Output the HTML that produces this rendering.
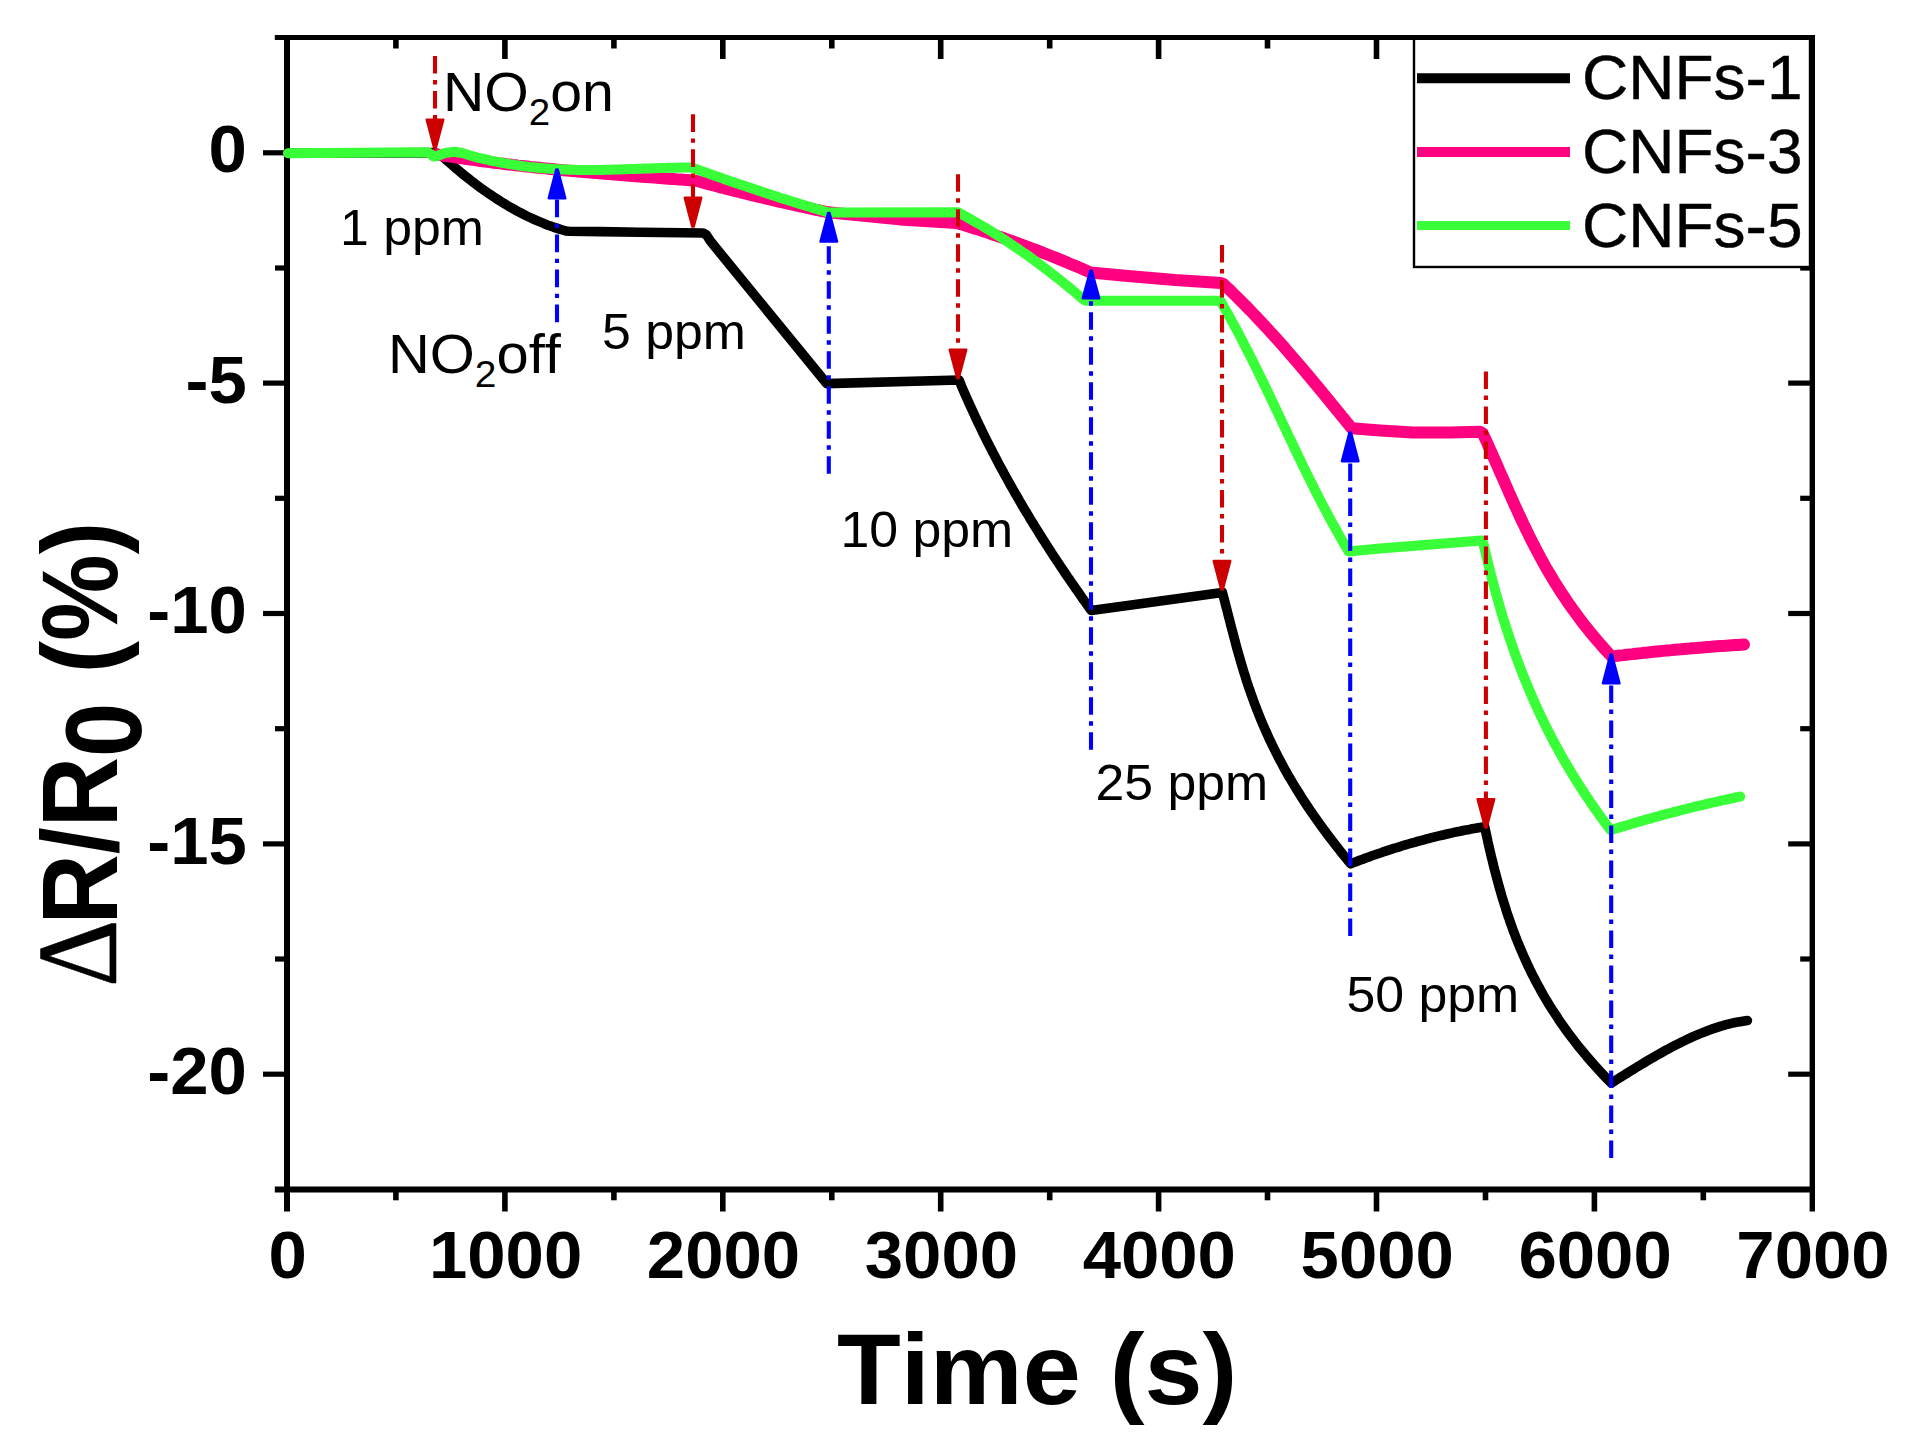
<!DOCTYPE html>
<html lang="en"><head><meta charset="utf-8"><title>NO2 response of CNFs</title>
<style>html,body{margin:0;padding:0;background:#fff}body{width:1915px;height:1451px;overflow:hidden}svg{display:block}text{font-family:"Liberation Sans",sans-serif;fill:#000;font-variant-ligatures:none;font-kerning:none}.b{font-weight:bold}</style></head><body>
<svg width="1915" height="1451" viewBox="0 0 1915 1451">
<rect width="1915" height="1451" fill="#fff"/>
<g stroke="#000" stroke-width="6.0" stroke-linecap="butt" fill="none">
<line x1="274.8" y1="37.6" x2="1815.0" y2="37.6" stroke-width="5.0"/>
<line x1="274.8" y1="1189.4" x2="1815.0" y2="1189.4"/>
<line x1="287.0" y1="34.9" x2="287.0" y2="1211.5"/>
<line x1="1812.3" y1="34.9" x2="1812.3" y2="1211.5" stroke-width="5.4"/>
</g>
<g stroke="#000" stroke-width="5.6" stroke-linecap="butt">
<line x1="395.9" y1="1189.4" x2="395.9" y2="1200.3"/>
<line x1="395.9" y1="37.6" x2="395.9" y2="48.5"/>
<line x1="504.9" y1="1189.4" x2="504.9" y2="1211.5"/>
<line x1="504.9" y1="37.6" x2="504.9" y2="59.0"/>
<line x1="613.9" y1="1189.4" x2="613.9" y2="1200.3"/>
<line x1="613.9" y1="37.6" x2="613.9" y2="48.5"/>
<line x1="722.8" y1="1189.4" x2="722.8" y2="1211.5"/>
<line x1="722.8" y1="37.6" x2="722.8" y2="59.0"/>
<line x1="831.8" y1="1189.4" x2="831.8" y2="1200.3"/>
<line x1="831.8" y1="37.6" x2="831.8" y2="48.5"/>
<line x1="940.7" y1="1189.4" x2="940.7" y2="1211.5"/>
<line x1="940.7" y1="37.6" x2="940.7" y2="59.0"/>
<line x1="1049.7" y1="1189.4" x2="1049.7" y2="1200.3"/>
<line x1="1049.7" y1="37.6" x2="1049.7" y2="48.5"/>
<line x1="1158.6" y1="1189.4" x2="1158.6" y2="1211.5"/>
<line x1="1158.6" y1="37.6" x2="1158.6" y2="59.0"/>
<line x1="1267.5" y1="1189.4" x2="1267.5" y2="1200.3"/>
<line x1="1267.5" y1="37.6" x2="1267.5" y2="48.5"/>
<line x1="1376.5" y1="1189.4" x2="1376.5" y2="1211.5"/>
<line x1="1376.5" y1="37.6" x2="1376.5" y2="59.0"/>
<line x1="1485.5" y1="1189.4" x2="1485.5" y2="1200.3"/>
<line x1="1485.5" y1="37.6" x2="1485.5" y2="48.5"/>
<line x1="1594.4" y1="1189.4" x2="1594.4" y2="1211.5"/>
<line x1="1594.4" y1="37.6" x2="1594.4" y2="59.0"/>
<line x1="1703.3" y1="1189.4" x2="1703.3" y2="1200.3"/>
<line x1="1703.3" y1="37.6" x2="1703.3" y2="48.5"/>
<line x1="263.0" y1="152.8" x2="287.0" y2="152.8" stroke-width="5.2"/>
<line x1="1788.2" y1="152.8" x2="1812.3" y2="152.8" stroke-width="5.2"/>
<line x1="275.0" y1="268.0" x2="287.0" y2="268.0" stroke-width="5.2"/>
<line x1="1800.2" y1="268.0" x2="1812.3" y2="268.0" stroke-width="5.2"/>
<line x1="263.0" y1="383.1" x2="287.0" y2="383.1" stroke-width="5.2"/>
<line x1="1788.2" y1="383.1" x2="1812.3" y2="383.1" stroke-width="5.2"/>
<line x1="275.0" y1="498.3" x2="287.0" y2="498.3" stroke-width="5.2"/>
<line x1="1800.2" y1="498.3" x2="1812.3" y2="498.3" stroke-width="5.2"/>
<line x1="263.0" y1="613.5" x2="287.0" y2="613.5" stroke-width="5.2"/>
<line x1="1788.2" y1="613.5" x2="1812.3" y2="613.5" stroke-width="5.2"/>
<line x1="275.0" y1="728.7" x2="287.0" y2="728.7" stroke-width="5.2"/>
<line x1="1800.2" y1="728.7" x2="1812.3" y2="728.7" stroke-width="5.2"/>
<line x1="263.0" y1="843.9" x2="287.0" y2="843.9" stroke-width="5.2"/>
<line x1="1788.2" y1="843.9" x2="1812.3" y2="843.9" stroke-width="5.2"/>
<line x1="275.0" y1="959.0" x2="287.0" y2="959.0" stroke-width="5.2"/>
<line x1="1800.2" y1="959.0" x2="1812.3" y2="959.0" stroke-width="5.2"/>
<line x1="263.0" y1="1074.2" x2="287.0" y2="1074.2" stroke-width="5.2"/>
<line x1="1788.2" y1="1074.2" x2="1812.3" y2="1074.2" stroke-width="5.2"/>
</g>
<text class="b" font-size="67.2" text-anchor="middle" transform="translate(287.7,1278.3) scale(1.0253,1)">0</text>
<text class="b" font-size="67.2" text-anchor="middle" transform="translate(505.6,1278.3) scale(1.0253,1)">1000</text>
<text class="b" font-size="67.2" text-anchor="middle" transform="translate(723.5,1278.3) scale(1.0253,1)">2000</text>
<text class="b" font-size="67.2" text-anchor="middle" transform="translate(941.4,1278.3) scale(1.0253,1)">3000</text>
<text class="b" font-size="67.2" text-anchor="middle" transform="translate(1159.3,1278.3) scale(1.0253,1)">4000</text>
<text class="b" font-size="67.2" text-anchor="middle" transform="translate(1377.2,1278.3) scale(1.0253,1)">5000</text>
<text class="b" font-size="67.2" text-anchor="middle" transform="translate(1595.1,1278.3) scale(1.0253,1)">6000</text>
<text class="b" font-size="67.2" text-anchor="middle" transform="translate(1813.0,1278.3) scale(1.0253,1)">7000</text>
<text class="b" font-size="67.2" text-anchor="end" transform="translate(246.8,172.4) scale(1.0253,1)">0</text>
<text class="b" font-size="67.2" text-anchor="end" transform="translate(246.8,402.7) scale(1.0253,1)">-5</text>
<text class="b" font-size="67.2" text-anchor="end" transform="translate(246.8,633.1) scale(1.0253,1)">-10</text>
<text class="b" font-size="67.2" text-anchor="end" transform="translate(246.8,863.5) scale(1.0253,1)">-15</text>
<text class="b" font-size="67.2" text-anchor="end" transform="translate(246.8,1093.8) scale(1.0253,1)">-20</text>
<text class="b" font-size="99.4" text-anchor="middle" transform="translate(1037.2,1403.5) scale(1.0503,1)">Time (s)</text>
<text class="b" font-size="101.3" transform="translate(116.5,924.6) scale(1.0670,0.9609) rotate(-90)">R/R<tspan dy="22.5">0</tspan><tspan dy="-22.5" dx="2.6"> (%)</tspan></text>
<text font-size="107" stroke="#000" stroke-width="0.5" stroke-linejoin="miter" style="font-family:'Liberation Serif','DejaVu Serif',serif" transform="translate(116.0,987.0) scale(1.0670,0.98) rotate(-90)">Δ</text>
<g fill="none" stroke-linecap="round" stroke-linejoin="round">
<path d="M288.0 153.3 L434.0 152.6 L440.0 154.2 L440.0 154.2 L443.1 157.0 L446.1 159.8 L449.2 162.5 L452.3 165.2 L455.3 167.8 L458.4 170.4 L461.5 173.0 L464.5 175.5 L467.6 177.9 L470.7 180.3 L473.7 182.7 L476.8 185.0 L479.9 187.3 L482.9 189.5 L486.0 191.6 L489.1 193.8 L492.1 195.8 L495.2 197.9 L498.3 199.9 L501.3 201.8 L504.4 203.7 L507.4 205.5 L510.5 207.3 L513.6 209.0 L516.6 210.7 L519.7 212.4 L522.8 213.9 L525.8 215.5 L528.9 217.0 L532.0 218.4 L535.0 219.8 L538.1 221.1 L541.2 222.4 L544.2 223.7 L547.3 224.9 L550.4 226.0 L553.4 227.1 L556.5 228.1 L559.6 229.1 L562.6 230.0 L565.7 230.9 L569.0 231.3 L600.0 231.6 L640.0 232.2 L703.0 233.0 L706.5 235.0 L710.0 240.5 L716.0 248.0 L826.8 383.6 L959.0 380.0 L959.0 380.0 L960.3 383.0 L961.5 386.1 L962.8 389.1 L964.1 392.1 L965.5 395.2 L966.8 398.2 L968.1 401.2 L969.5 404.3 L970.9 407.3 L972.3 410.3 L973.7 413.3 L975.1 416.4 L976.5 419.4 L977.9 422.4 L979.4 425.5 L980.9 428.5 L982.3 431.5 L983.8 434.6 L985.3 437.6 L986.8 440.6 L988.4 443.7 L989.9 446.7 L991.5 449.7 L993.0 452.8 L994.6 455.8 L996.2 458.8 L997.8 461.9 L999.4 464.9 L1001.0 467.9 L1002.7 470.9 L1004.3 474.0 L1006.0 477.0 L1007.7 480.0 L1009.4 483.1 L1011.1 486.1 L1012.8 489.1 L1014.5 492.2 L1016.3 495.2 L1018.0 498.2 L1019.8 501.3 L1021.6 504.3 L1023.3 507.3 L1025.1 510.4 L1027.0 513.4 L1028.8 516.4 L1030.6 519.5 L1032.5 522.5 L1034.3 525.5 L1036.2 528.5 L1038.1 531.6 L1040.0 534.6 L1041.9 537.6 L1043.8 540.7 L1045.8 543.7 L1047.7 546.7 L1049.7 549.8 L1051.6 552.8 L1053.6 555.8 L1055.6 558.9 L1057.6 561.9 L1059.6 564.9 L1061.6 568.0 L1063.7 571.0 L1065.7 574.0 L1067.8 577.1 L1069.9 580.1 L1071.9 583.1 L1074.0 586.1 L1076.1 589.2 L1078.3 592.2 L1080.4 595.2 L1082.5 598.3 L1084.7 601.3 L1086.8 604.3 L1089.0 607.4 L1091.2 610.4 L1222.4 592.4 L1222.4 592.4 L1223.2 595.4 L1224.0 598.4 L1224.8 601.4 L1225.5 604.5 L1226.3 607.5 L1227.1 610.5 L1227.8 613.5 L1228.6 616.5 L1229.4 619.5 L1230.2 622.6 L1230.9 625.6 L1231.7 628.6 L1232.5 631.6 L1233.3 634.6 L1234.1 637.6 L1234.9 640.6 L1235.7 643.7 L1236.5 646.7 L1237.3 649.7 L1238.2 652.7 L1239.0 655.7 L1239.9 658.7 L1240.8 661.8 L1241.7 664.8 L1242.6 667.8 L1243.5 670.8 L1244.4 673.8 L1245.4 676.8 L1246.3 679.9 L1247.3 682.9 L1248.3 685.9 L1249.3 688.9 L1250.4 691.9 L1251.4 694.9 L1252.5 697.9 L1253.6 701.0 L1254.7 704.0 L1255.9 707.0 L1257.0 710.0 L1258.2 713.0 L1259.4 716.0 L1260.6 719.1 L1261.9 722.1 L1263.2 725.1 L1264.5 728.1 L1265.8 731.1 L1267.2 734.1 L1268.5 737.1 L1269.9 740.2 L1271.4 743.2 L1272.8 746.2 L1274.3 749.2 L1275.8 752.2 L1277.3 755.2 L1278.9 758.3 L1280.5 761.3 L1282.1 764.3 L1283.7 767.3 L1285.4 770.3 L1287.1 773.3 L1288.8 776.3 L1290.6 779.4 L1292.4 782.4 L1294.2 785.4 L1296.0 788.4 L1297.9 791.4 L1299.8 794.4 L1301.7 797.5 L1303.6 800.5 L1305.6 803.5 L1307.6 806.5 L1309.6 809.5 L1311.7 812.5 L1313.8 815.6 L1315.9 818.6 L1318.0 821.6 L1320.2 824.6 L1322.4 827.6 L1324.6 830.6 L1326.8 833.6 L1329.1 836.7 L1331.4 839.7 L1333.7 842.7 L1336.1 845.7 L1338.4 848.7 L1340.8 851.7 L1343.2 854.8 L1345.7 857.8 L1348.1 860.8 L1350.6 863.8 L1350.6 863.8 L1353.6 862.6 L1356.7 861.4 L1359.7 860.3 L1362.8 859.2 L1365.8 858.0 L1368.9 856.9 L1371.9 855.8 L1375.0 854.8 L1378.0 853.7 L1381.1 852.7 L1384.1 851.6 L1387.1 850.6 L1390.2 849.6 L1393.2 848.7 L1396.3 847.7 L1399.3 846.8 L1402.4 845.8 L1405.4 844.9 L1408.5 844.0 L1411.5 843.1 L1414.6 842.3 L1417.6 841.4 L1420.6 840.6 L1423.7 839.8 L1426.7 838.9 L1429.8 838.2 L1432.8 837.4 L1435.9 836.6 L1438.9 835.9 L1442.0 835.2 L1445.0 834.5 L1448.1 833.8 L1451.1 833.1 L1454.1 832.4 L1457.2 831.8 L1460.2 831.2 L1463.3 830.5 L1466.3 829.9 L1469.4 829.4 L1472.4 828.8 L1475.5 828.3 L1478.5 827.7 L1481.6 827.2 L1484.6 826.7 L1484.6 826.7 L1485.3 829.7 L1485.9 832.7 L1486.6 835.7 L1487.3 838.8 L1487.9 841.8 L1488.6 844.8 L1489.3 847.8 L1490.0 850.8 L1490.7 853.8 L1491.4 856.9 L1492.2 859.9 L1492.9 862.9 L1493.6 865.9 L1494.4 868.9 L1495.2 871.9 L1496.0 875.0 L1496.8 878.0 L1497.6 881.0 L1498.4 884.0 L1499.2 887.0 L1500.1 890.0 L1501.0 893.1 L1501.8 896.1 L1502.7 899.1 L1503.7 902.1 L1504.6 905.1 L1505.6 908.1 L1506.5 911.2 L1507.5 914.2 L1508.5 917.2 L1509.6 920.2 L1510.6 923.2 L1511.7 926.2 L1512.8 929.3 L1513.9 932.3 L1515.1 935.3 L1516.2 938.3 L1517.4 941.3 L1518.7 944.3 L1519.9 947.4 L1521.2 950.4 L1522.5 953.4 L1523.8 956.4 L1525.1 959.4 L1526.5 962.4 L1527.9 965.5 L1529.4 968.5 L1530.8 971.5 L1532.3 974.5 L1533.9 977.5 L1535.4 980.5 L1537.0 983.6 L1538.7 986.6 L1540.3 989.6 L1542.0 992.6 L1543.7 995.6 L1545.5 998.6 L1547.3 1001.7 L1549.1 1004.7 L1551.0 1007.7 L1552.9 1010.7 L1554.9 1013.7 L1556.9 1016.7 L1558.9 1019.8 L1560.9 1022.8 L1563.0 1025.8 L1565.2 1028.8 L1567.4 1031.8 L1569.6 1034.8 L1571.9 1037.9 L1574.2 1040.9 L1576.5 1043.9 L1578.9 1046.9 L1581.4 1049.9 L1583.9 1052.9 L1586.4 1056.0 L1589.0 1059.0 L1591.6 1062.0 L1594.3 1065.0 L1597.0 1068.0 L1599.7 1071.0 L1602.6 1074.1 L1605.4 1077.1 L1608.3 1080.1 L1611.3 1083.1 L1611.3 1083.1 L1614.3 1081.2 L1617.3 1079.3 L1620.4 1077.4 L1623.4 1075.5 L1626.4 1073.6 L1629.4 1071.7 L1632.5 1069.9 L1635.5 1068.0 L1638.5 1066.2 L1641.5 1064.3 L1644.6 1062.5 L1647.6 1060.7 L1650.6 1058.9 L1653.6 1057.2 L1656.7 1055.4 L1659.7 1053.7 L1662.7 1052.0 L1665.7 1050.3 L1668.8 1048.7 L1671.8 1047.1 L1674.8 1045.5 L1677.8 1044.0 L1680.9 1042.4 L1683.9 1041.0 L1686.9 1039.5 L1689.9 1038.1 L1693.0 1036.7 L1696.0 1035.4 L1699.0 1034.1 L1702.0 1032.9 L1705.1 1031.7 L1708.1 1030.5 L1711.1 1029.4 L1714.1 1028.4 L1717.2 1027.4 L1720.2 1026.4 L1723.2 1025.5 L1726.2 1024.7 L1729.3 1023.9 L1732.3 1023.2 L1735.3 1022.5 L1738.3 1021.9 L1741.4 1021.4 L1744.4 1020.9 L1747.4 1020.5" stroke="#000" stroke-width="9.6"/>
<path d="M437.0 154.5 L440.0 155.0 L440.0 155.0 L443.0 155.5 L446.0 156.0 L449.0 156.4 L452.0 156.9 L455.0 157.3 L458.0 157.8 L461.1 158.2 L464.1 158.7 L467.1 159.1 L470.1 159.5 L473.1 159.9 L476.1 160.3 L479.1 160.8 L482.1 161.2 L485.1 161.5 L488.1 161.9 L491.1 162.3 L494.1 162.7 L497.2 163.1 L500.2 163.4 L503.2 163.8 L506.2 164.2 L509.2 164.5 L512.2 164.9 L515.2 165.2 L518.2 165.6 L521.2 165.9 L524.2 166.2 L527.2 166.5 L530.2 166.9 L533.3 167.2 L536.3 167.5 L539.3 167.8 L542.3 168.1 L545.3 168.4 L548.3 168.7 L551.3 169.0 L554.3 169.3 L557.3 169.6 L560.3 169.9 L563.3 170.2 L566.3 170.4 L569.4 170.7 L572.4 171.0 L575.4 171.3 L578.4 171.5 L581.4 171.8 L584.4 172.1 L587.4 172.3 L590.4 172.6 L593.4 172.8 L596.4 173.1 L599.4 173.3 L602.4 173.6 L605.5 173.8 L608.5 174.1 L611.5 174.3 L614.5 174.6 L617.5 174.8 L620.5 175.0 L623.5 175.3 L626.5 175.5 L629.5 175.7 L632.5 176.0 L635.5 176.2 L638.5 176.4 L641.6 176.7 L644.6 176.9 L647.6 177.1 L650.6 177.3 L653.6 177.6 L656.6 177.8 L659.6 178.0 L662.6 178.2 L665.6 178.5 L668.6 178.7 L671.6 178.9 L674.6 179.1 L677.7 179.4 L680.7 179.6 L683.7 179.8 L686.7 180.0 L689.7 180.2 L692.7 180.5 L695.7 180.7 L695.7 180.7 L698.7 181.5 L701.7 182.3 L704.7 183.1 L707.7 183.9 L710.7 184.7 L713.7 185.5 L716.7 186.3 L719.8 187.1 L722.8 187.8 L725.8 188.6 L728.8 189.4 L731.8 190.1 L734.8 190.9 L737.8 191.7 L740.8 192.4 L743.8 193.2 L746.8 193.9 L749.8 194.6 L752.8 195.4 L755.8 196.1 L758.8 196.8 L761.9 197.5 L764.9 198.3 L767.9 199.0 L770.9 199.7 L773.9 200.4 L776.9 201.1 L779.9 201.8 L782.9 202.5 L785.9 203.2 L788.9 203.8 L791.9 204.5 L794.9 205.2 L797.9 205.9 L800.9 206.5 L803.9 207.2 L807.0 207.8 L810.0 208.5 L813.0 209.1 L816.0 209.8 L819.0 210.4 L822.0 211.0 L825.0 211.7 L828.0 212.3 L899.3 219.4 L957.0 223.0 L957.0 223.0 L960.0 223.9 L963.1 224.9 L966.1 225.8 L969.1 226.7 L972.2 227.7 L975.2 228.7 L978.3 229.6 L981.3 230.6 L984.3 231.6 L987.4 232.6 L990.4 233.7 L993.4 234.7 L996.5 235.7 L999.5 236.8 L1002.5 237.8 L1005.6 238.9 L1008.6 239.9 L1011.7 241.0 L1014.7 242.1 L1017.7 243.2 L1020.8 244.3 L1023.8 245.5 L1026.8 246.6 L1029.9 247.7 L1032.9 248.9 L1035.9 250.0 L1039.0 251.2 L1042.0 252.4 L1045.1 253.6 L1048.1 254.8 L1051.1 256.0 L1054.2 257.2 L1057.2 258.4 L1060.2 259.6 L1063.3 260.9 L1066.3 262.1 L1069.3 263.4 L1072.4 264.7 L1075.4 265.9 L1078.5 267.2 L1081.5 268.5 L1084.5 269.9 L1087.6 271.2 L1090.6 272.5 L1128.0 275.9 L1175.0 280.1 L1221.0 283.0 L1223.5 284.0 L1223.5 284.0 L1226.6 287.0 L1229.8 290.0 L1232.8 293.0 L1235.9 296.0 L1238.9 299.0 L1241.9 302.0 L1244.9 305.0 L1247.8 308.0 L1250.8 311.0 L1253.6 314.0 L1256.5 317.0 L1259.4 320.1 L1262.2 323.1 L1265.0 326.1 L1267.7 329.1 L1270.5 332.1 L1273.2 335.1 L1275.9 338.1 L1278.6 341.1 L1281.3 344.1 L1284.0 347.1 L1286.6 350.1 L1289.2 353.1 L1291.8 356.1 L1294.4 359.1 L1297.0 362.1 L1299.6 365.1 L1302.1 368.1 L1304.7 371.1 L1307.2 374.1 L1309.7 377.1 L1312.2 380.1 L1314.7 383.1 L1317.2 386.1 L1319.7 389.1 L1322.2 392.1 L1324.6 395.2 L1327.1 398.2 L1329.6 401.2 L1332.0 404.2 L1334.5 407.2 L1336.9 410.2 L1339.4 413.2 L1341.8 416.2 L1344.3 419.2 L1346.7 422.2 L1349.2 425.2 L1351.6 428.2 L1380.0 430.5 L1413.0 432.6 L1450.0 432.6 L1480.0 431.8 L1482.8 433.5 L1482.8 433.5 L1484.2 436.5 L1485.6 439.5 L1487.0 442.5 L1488.3 445.6 L1489.7 448.6 L1491.0 451.6 L1492.4 454.6 L1493.7 457.6 L1495.0 460.6 L1496.4 463.6 L1497.7 466.6 L1499.0 469.7 L1500.3 472.7 L1501.7 475.7 L1503.0 478.7 L1504.3 481.7 L1505.6 484.7 L1507.0 487.7 L1508.3 490.8 L1509.6 493.8 L1511.0 496.8 L1512.3 499.8 L1513.7 502.8 L1515.0 505.8 L1516.4 508.8 L1517.8 511.9 L1519.2 514.9 L1520.6 517.9 L1522.0 520.9 L1523.4 523.9 L1524.9 526.9 L1526.3 529.9 L1527.8 532.9 L1529.3 536.0 L1530.8 539.0 L1532.3 542.0 L1533.9 545.0 L1535.4 548.0 L1537.0 551.0 L1538.6 554.0 L1540.2 557.1 L1541.9 560.1 L1543.5 563.1 L1545.2 566.1 L1546.9 569.1 L1548.7 572.1 L1550.5 575.1 L1552.3 578.1 L1554.1 581.2 L1556.0 584.2 L1557.8 587.2 L1559.8 590.2 L1561.7 593.2 L1563.7 596.2 L1565.7 599.2 L1567.8 602.3 L1569.9 605.3 L1572.0 608.3 L1574.2 611.3 L1576.4 614.3 L1578.6 617.3 L1580.9 620.3 L1583.2 623.4 L1585.5 626.4 L1588.0 629.4 L1590.4 632.4 L1592.9 635.4 L1595.4 638.4 L1598.0 641.4 L1600.6 644.4 L1603.3 647.5 L1606.0 650.5 L1608.8 653.5 L1611.6 656.5 L1611.6 656.5 L1614.6 656.1 L1617.6 655.8 L1620.6 655.4 L1623.6 655.1 L1626.6 654.7 L1629.7 654.4 L1632.7 654.1 L1635.7 653.7 L1638.7 653.4 L1641.7 653.1 L1644.7 652.8 L1647.7 652.5 L1650.7 652.1 L1653.7 651.8 L1656.7 651.5 L1659.7 651.2 L1662.8 650.9 L1665.8 650.6 L1668.8 650.4 L1671.8 650.1 L1674.8 649.8 L1677.8 649.5 L1680.8 649.3 L1683.8 649.0 L1686.8 648.7 L1689.8 648.5 L1692.8 648.2 L1695.9 648.0 L1698.9 647.7 L1701.9 647.5 L1704.9 647.2 L1707.9 647.0 L1710.9 646.8 L1713.9 646.5 L1716.9 646.3 L1719.9 646.1 L1722.9 645.9 L1725.9 645.7 L1729.0 645.5 L1732.0 645.3 L1735.0 645.1 L1738.0 644.9 L1741.0 644.7 L1744.0 644.5" stroke="#FF0080" stroke-width="12"/>
<path d="M288.0 153.3 L428.0 152.2 L431.0 154.5 L433.6 156.5 L437.0 156.0 L445.0 153.0 L454.5 151.8 L462.0 153.0 L472.0 156.0 L472.0 156.0 L475.0 156.8 L478.0 157.6 L481.0 158.3 L484.1 159.0 L487.1 159.7 L490.1 160.4 L493.1 161.1 L496.1 161.7 L499.1 162.3 L502.1 162.8 L505.2 163.4 L508.2 163.9 L511.2 164.4 L514.2 164.9 L517.2 165.3 L520.2 165.8 L523.2 166.2 L526.2 166.5 L529.3 166.9 L532.3 167.2 L535.3 167.5 L538.3 167.8 L541.3 168.1 L544.3 168.4 L547.3 168.6 L550.4 168.8 L553.4 169.0 L556.4 169.2 L559.4 169.3 L562.4 169.5 L565.4 169.6 L568.4 169.7 L571.5 169.8 L574.5 169.8 L577.5 169.9 L580.5 169.9 L583.5 170.0 L586.5 170.0 L589.5 170.0 L592.5 170.0 L595.6 170.0 L598.6 169.9 L601.6 169.9 L604.6 169.8 L607.6 169.8 L610.6 169.7 L613.6 169.6 L616.7 169.5 L619.7 169.4 L622.7 169.3 L625.7 169.2 L628.7 169.1 L631.7 169.0 L634.7 168.9 L637.8 168.8 L640.8 168.7 L643.8 168.6 L646.8 168.5 L649.8 168.4 L652.8 168.3 L655.8 168.2 L658.8 168.1 L661.9 168.0 L664.9 167.9 L667.9 167.8 L670.9 167.8 L673.9 167.7 L676.9 167.7 L679.9 167.6 L683.0 167.6 L686.0 167.6 L689.0 167.6 L692.0 167.6 L693.8 168.2 L693.8 168.2 L696.8 169.3 L699.8 170.4 L702.8 171.5 L705.8 172.5 L708.8 173.6 L711.8 174.7 L714.8 175.7 L717.8 176.8 L720.8 177.8 L723.8 178.9 L726.8 179.9 L729.8 181.0 L732.8 182.0 L735.8 183.0 L738.8 184.1 L741.8 185.1 L744.8 186.1 L747.8 187.1 L750.8 188.1 L753.8 189.1 L756.8 190.1 L759.8 191.1 L762.8 192.1 L765.8 193.1 L768.8 194.0 L771.8 195.0 L774.8 196.0 L777.8 196.9 L780.8 197.9 L783.8 198.9 L786.8 199.8 L789.8 200.8 L792.8 201.7 L795.8 202.6 L798.8 203.6 L801.8 204.5 L804.8 205.4 L807.8 206.3 L810.8 207.2 L813.8 208.1 L816.8 209.0 L819.8 209.9 L822.8 210.8 L825.8 211.7 L828.8 212.6 L958.0 212.3 L958.0 212.3 L961.0 213.9 L964.0 215.5 L967.0 217.2 L970.0 218.9 L973.0 220.6 L976.0 222.3 L979.0 224.0 L982.1 225.8 L985.1 227.6 L988.1 229.4 L991.1 231.3 L994.1 233.1 L997.1 235.0 L1000.1 236.9 L1003.1 238.9 L1006.1 240.8 L1009.1 242.8 L1012.1 244.8 L1015.1 246.8 L1018.1 248.9 L1021.1 251.0 L1024.2 253.1 L1027.2 255.2 L1030.2 257.4 L1033.2 259.5 L1036.2 261.7 L1039.2 264.0 L1042.2 266.2 L1045.2 268.5 L1048.2 270.8 L1051.2 273.1 L1054.2 275.5 L1057.2 277.8 L1060.2 280.2 L1063.2 282.6 L1066.3 285.1 L1069.3 287.5 L1072.3 290.0 L1075.3 292.5 L1078.3 295.1 L1081.3 297.6 L1084.3 300.2 L1086.0 300.7 L1220.0 300.7 L1220.3 300.7 L1222.1 303.7 L1223.8 306.7 L1225.5 309.8 L1227.2 312.8 L1228.9 315.8 L1230.6 318.8 L1232.2 321.9 L1233.9 324.9 L1235.5 327.9 L1237.2 330.9 L1238.8 333.9 L1240.4 337.0 L1242.0 340.0 L1243.5 343.0 L1245.1 346.0 L1246.6 349.0 L1248.2 352.1 L1249.7 355.1 L1251.2 358.1 L1252.8 361.1 L1254.3 364.2 L1255.8 367.2 L1257.3 370.2 L1258.7 373.2 L1260.2 376.2 L1261.7 379.3 L1263.2 382.3 L1264.6 385.3 L1266.1 388.3 L1267.5 391.4 L1269.0 394.4 L1270.4 397.4 L1271.9 400.4 L1273.3 403.4 L1274.7 406.5 L1276.2 409.5 L1277.6 412.5 L1279.0 415.5 L1280.5 418.5 L1281.9 421.6 L1283.3 424.6 L1284.7 427.6 L1286.2 430.6 L1287.6 433.7 L1289.0 436.7 L1290.5 439.7 L1291.9 442.7 L1293.3 445.7 L1294.8 448.8 L1296.2 451.8 L1297.7 454.8 L1299.1 457.8 L1300.6 460.8 L1302.0 463.9 L1303.5 466.9 L1305.0 469.9 L1306.5 472.9 L1308.0 476.0 L1309.4 479.0 L1311.0 482.0 L1312.5 485.0 L1314.0 488.0 L1315.5 491.1 L1317.1 494.1 L1318.6 497.1 L1320.2 500.1 L1321.7 503.2 L1323.3 506.2 L1324.9 509.2 L1326.5 512.2 L1328.1 515.2 L1329.7 518.3 L1331.4 521.3 L1333.0 524.3 L1334.7 527.3 L1336.4 530.3 L1338.1 533.4 L1339.8 536.4 L1341.5 539.4 L1343.3 542.4 L1345.0 545.5 L1346.8 548.5 L1348.6 551.5 L1380.0 548.5 L1481.5 540.6 L1483.5 544.0 L1483.5 544.0 L1484.2 547.0 L1484.9 550.0 L1485.6 553.0 L1486.3 556.1 L1487.1 559.1 L1487.8 562.1 L1488.5 565.1 L1489.3 568.1 L1490.0 571.1 L1490.8 574.1 L1491.6 577.1 L1492.4 580.2 L1493.2 583.2 L1494.0 586.2 L1494.8 589.2 L1495.6 592.2 L1496.5 595.2 L1497.3 598.2 L1498.2 601.2 L1499.0 604.3 L1499.9 607.3 L1500.8 610.3 L1501.7 613.3 L1502.6 616.3 L1503.5 619.3 L1504.5 622.3 L1505.4 625.3 L1506.4 628.4 L1507.4 631.4 L1508.4 634.4 L1509.4 637.4 L1510.4 640.4 L1511.4 643.4 L1512.4 646.4 L1513.5 649.4 L1514.6 652.5 L1515.7 655.5 L1516.8 658.5 L1517.9 661.5 L1519.0 664.5 L1520.1 667.5 L1521.3 670.5 L1522.5 673.5 L1523.7 676.6 L1524.9 679.6 L1526.1 682.6 L1527.4 685.6 L1528.6 688.6 L1529.9 691.6 L1531.2 694.6 L1532.5 697.6 L1533.8 700.7 L1535.2 703.7 L1536.5 706.7 L1537.9 709.7 L1539.3 712.7 L1540.7 715.7 L1542.2 718.7 L1543.6 721.7 L1545.1 724.8 L1546.6 727.8 L1548.1 730.8 L1549.7 733.8 L1551.2 736.8 L1552.8 739.8 L1554.4 742.8 L1556.0 745.8 L1557.7 748.9 L1559.3 751.9 L1561.0 754.9 L1562.7 757.9 L1564.4 760.9 L1566.2 763.9 L1568.0 766.9 L1569.8 769.9 L1571.6 773.0 L1573.4 776.0 L1575.3 779.0 L1577.2 782.0 L1579.1 785.0 L1581.0 788.0 L1583.0 791.0 L1584.9 794.0 L1587.0 797.1 L1589.0 800.1 L1591.0 803.1 L1593.1 806.1 L1595.2 809.1 L1597.4 812.1 L1599.5 815.1 L1601.7 818.1 L1603.9 821.2 L1606.1 824.2 L1608.4 827.2 L1610.7 830.2 L1610.7 830.2 L1613.7 829.3 L1616.7 828.3 L1619.7 827.4 L1622.7 826.5 L1625.8 825.6 L1628.8 824.7 L1631.8 823.8 L1634.8 822.9 L1637.8 822.0 L1640.8 821.1 L1643.8 820.3 L1646.8 819.4 L1649.9 818.6 L1652.9 817.7 L1655.9 816.9 L1658.9 816.1 L1661.9 815.2 L1664.9 814.4 L1667.9 813.6 L1670.9 812.8 L1673.9 812.0 L1677.0 811.3 L1680.0 810.5 L1683.0 809.7 L1686.0 809.0 L1689.0 808.2 L1692.0 807.5 L1695.0 806.7 L1698.0 806.0 L1701.0 805.3 L1704.1 804.6 L1707.1 803.9 L1710.1 803.2 L1713.1 802.5 L1716.1 801.8 L1719.1 801.1 L1722.1 800.4 L1725.1 799.8 L1728.2 799.1 L1731.2 798.5 L1734.2 797.9 L1737.2 797.2 L1740.2 796.6" stroke="#38FF38" stroke-width="10"/>
</g>
<line x1="435.0" y1="56.0" x2="435.0" y2="120.4" stroke="#CC0000" stroke-width="4.1" stroke-dasharray="17.6 6.5 4.4 6.5"/>
<path d="M426.7 119.6 L443.3 119.6 L435.7 148.4 L434.3 148.4 Z" fill="#CC0000" stroke="#CC0000" stroke-width="2.4" stroke-linejoin="round"/>
<line x1="693.0" y1="114.3" x2="693.0" y2="198.6" stroke="#CC0000" stroke-width="4.1" stroke-dasharray="17.6 6.5 4.4 6.5"/>
<path d="M684.7 197.8 L701.3 197.8 L693.7 226.6 L692.3 226.6 Z" fill="#CC0000" stroke="#CC0000" stroke-width="2.4" stroke-linejoin="round"/>
<line x1="958.0" y1="174.2" x2="958.0" y2="350.5" stroke="#CC0000" stroke-width="4.1" stroke-dasharray="17.6 6.5 4.4 6.5"/>
<path d="M949.7 349.7 L966.3 349.7 L958.7 378.3 L957.3 378.3 Z" fill="#CC0000" stroke="#CC0000" stroke-width="2.4" stroke-linejoin="round"/>
<line x1="1222.0" y1="245.0" x2="1222.0" y2="561.7" stroke="#CC0000" stroke-width="4.1" stroke-dasharray="17.6 6.5 4.4 6.5"/>
<path d="M1213.7 560.9 L1230.3 560.9 L1222.7 589.6 L1221.3 589.6 Z" fill="#CC0000" stroke="#CC0000" stroke-width="2.4" stroke-linejoin="round"/>
<line x1="1485.9" y1="371.4" x2="1485.9" y2="799.9" stroke="#CC0000" stroke-width="4.1" stroke-dasharray="17.6 6.5 4.4 6.5"/>
<path d="M1477.6 799.1 L1494.2 799.1 L1486.6 827.6 L1485.2 827.6 Z" fill="#CC0000" stroke="#CC0000" stroke-width="2.4" stroke-linejoin="round"/>
<line x1="557.0" y1="322.2" x2="557.0" y2="197.4" stroke="#0000FF" stroke-width="4.1" stroke-dasharray="17.6 6.5 4.4 6.5"/>
<path d="M548.7 198.2 L565.3 198.2 L557.7 169.4 L556.3 169.4 Z" fill="#0000FF" stroke="#0000FF" stroke-width="2.4" stroke-linejoin="round"/>
<line x1="828.8" y1="473.8" x2="828.8" y2="240.8" stroke="#0000FF" stroke-width="4.1" stroke-dasharray="17.6 6.5 4.4 6.5"/>
<path d="M820.5 241.6 L837.1 241.6 L829.5 212.9 L828.1 212.9 Z" fill="#0000FF" stroke="#0000FF" stroke-width="2.4" stroke-linejoin="round"/>
<line x1="1091.0" y1="749.8" x2="1091.0" y2="297.4" stroke="#0000FF" stroke-width="4.1" stroke-dasharray="17.6 6.5 4.4 6.5"/>
<path d="M1082.7 298.2 L1099.3 298.2 L1091.7 270.6 L1090.3 270.6 Z" fill="#0000FF" stroke="#0000FF" stroke-width="2.4" stroke-linejoin="round"/>
<line x1="1350.2" y1="936.0" x2="1350.2" y2="460.4" stroke="#0000FF" stroke-width="4.1" stroke-dasharray="17.6 6.5 4.4 6.5"/>
<path d="M1341.9 461.2 L1358.5 461.2 L1350.9 432.4 L1349.5 432.4 Z" fill="#0000FF" stroke="#0000FF" stroke-width="2.4" stroke-linejoin="round"/>
<line x1="1611.2" y1="1158.0" x2="1611.2" y2="682.4" stroke="#0000FF" stroke-width="4.1" stroke-dasharray="17.6 6.5 4.4 6.5"/>
<path d="M1602.9 683.2 L1619.5 683.2 L1611.9 654.4 L1610.5 654.4 Z" fill="#0000FF" stroke="#0000FF" stroke-width="2.4" stroke-linejoin="round"/>
<text font-size="50.3" transform="translate(340.0,245.1) scale(1.0300,1)">1 ppm</text>
<text font-size="50.3" transform="translate(602.0,348.8) scale(1.0300,1)">5 ppm</text>
<text font-size="50.3" transform="translate(840.5,546.9) scale(1.0300,1)">10 ppm</text>
<text font-size="50.3" transform="translate(1095.5,799.9) scale(1.0300,1)">25 ppm</text>
<text font-size="50.3" transform="translate(1346.5,1012.4) scale(1.0300,1)">50 ppm</text>
<text font-size="55.8" transform="translate(443.0,110.9) scale(1.0253,1)">NO<tspan font-size="37.5" dy="14">2</tspan><tspan dy="-14">on</tspan></text>
<text font-size="55.8" transform="translate(388.0,372.7) scale(1.0376,1)">NO<tspan font-size="37.5" dy="14">2</tspan><tspan dy="-14">off</tspan></text>
<rect x="1414" y="37" width="398" height="230" fill="#fff" stroke="#000" stroke-width="2.4"/>
<line x1="1811.9" y1="35.1" x2="1811.9" y2="270" stroke="#000" stroke-width="6.2"/>
<line x1="1400" y1="37.6" x2="1812.3" y2="37.6" stroke="#000" stroke-width="5.0"/>
<line x1="1417" y1="78.3" x2="1570" y2="78.3" stroke="#000" stroke-width="10"/>
<text font-size="62.9" stroke="#000" stroke-width="0.4" transform="translate(1582.0,99.3) scale(1.0181,1)">CNFs-1</text>
<line x1="1417" y1="152.0" x2="1570" y2="152.0" stroke="#FF0080" stroke-width="10"/>
<text font-size="62.9" stroke="#000" stroke-width="0.4" transform="translate(1582.0,173.0) scale(1.0181,1)">CNFs-3</text>
<line x1="1417" y1="225.5" x2="1570" y2="225.5" stroke="#38FF38" stroke-width="9"/>
<text font-size="62.9" stroke="#000" stroke-width="0.4" transform="translate(1582.0,246.5) scale(1.0181,1)">CNFs-5</text>
</svg></body></html>
